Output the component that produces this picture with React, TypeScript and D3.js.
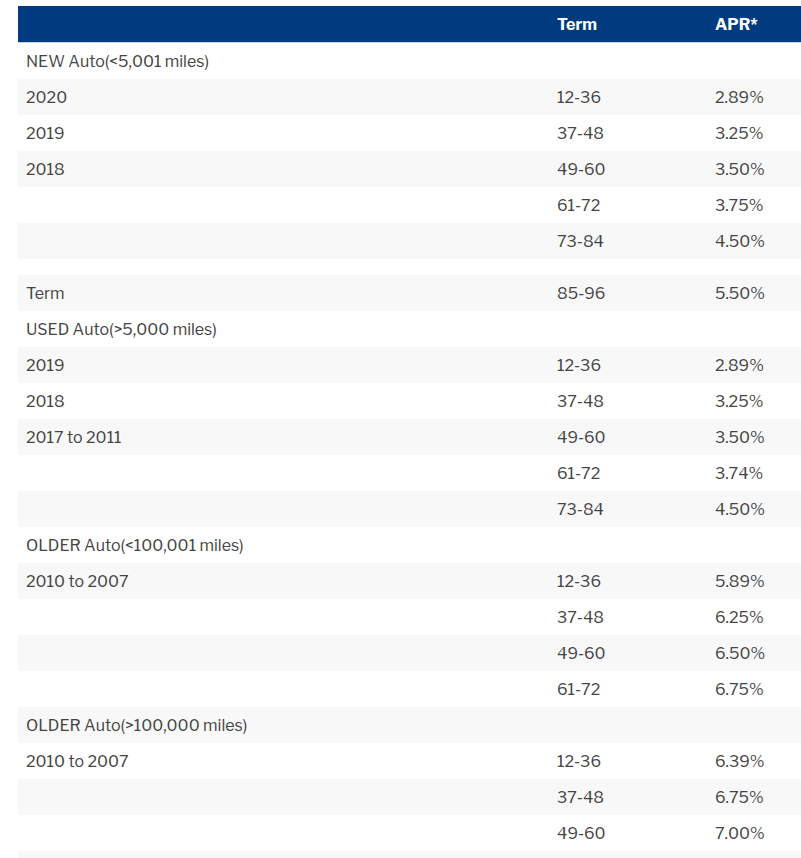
import React from "react";
import * as d3 from "d3";

const headers = ["", "Term", "APR*"];
const labels = [
  "NEW Auto(<5,001 miles)", "2020", "2019", "2018", "", "",
  "", "Term",
  "USED Auto(>5,000 miles)", "2019", "2018", "2017 to 2011", "", "",
  "OLDER Auto(<100,001 miles)", "2010 to 2007", "", "", "",
  "OLDER Auto(>100,000 miles)", "2010 to 2007", "", "", "",
];
const terms = [
  "", "12-36", "37-48", "49-60", "61-72", "73-84",
  "", "85-96",
  "", "12-36", "37-48", "49-60", "61-72", "73-84",
  "", "12-36", "37-48", "49-60", "61-72",
  "", "12-36", "37-48", "49-60", "",
];
const aprs = [
  "", "2.89%", "3.25%", "3.50%", "3.75%", "4.50%",
  "", "5.50%",
  "", "2.89%", "3.25%", "3.50%", "3.74%", "4.50%",
  "", "5.89%", "6.25%", "6.50%", "6.75%",
  "", "6.39%", "6.75%", "7.00%", "",
];
// spacer rows (index 6) are short
const spacerRows = [6];

const W = 801;
const H = 858;
const FONT = "'Libre Franklin', 'Open Sans', sans-serif";

export default function App() {
  const left = 18;
  const top = 6;
  const headerH = 36;
  const rowH = 36;
  const spacerH = 16;
  const colX = d3.scaleOrdinal<number, number>().domain([0, 1, 2]).range([26, 557, 715]);

  const heights = labels.map((_, i) => (spacerRows.includes(i) ? spacerH : rowH));
  const starts = d3.cumsum([0, ...heights]);
  const y = d3.scaleLinear().domain([0, 1]).range([top + headerH + 1, top + headerH + 2]);

  const rows = labels.map((l, i) => ({
    i,
    y0: y(0) + starts[i],
    h: heights[i],
    cells: [l, terms[i], aprs[i]],
  }));

  return (
    <svg
      width={W}
      height={H}
      style={{ position: "absolute", left: 0, top: 0, display: "block" }}
      fontFamily={FONT}
    >
      <rect x={0} y={0} width={W} height={H} fill="#fff" />
      <rect x={left} y={top} width={W - left} height={headerH} fill="#003b80" />
      <rect x={left} y={top + headerH} width={W - left} height={1} fill="#c9d5e6" />
      {headers.map((h, c) => (
        <text
          key={c}
          x={colX(c)}
          y={top + headerH / 2}
          dy="0.36em"
          fill="#fff"
          fontWeight={700}
          fontSize={16}
        >
          {h}
        </text>
      ))}
      {rows.map((r) => (
        <g key={r.i}>
          {r.i % 2 === 1 && (
            <rect x={left} y={r.y0} width={W - left} height={r.h} fill="#f8f8f8" />
          )}
          {r.cells.map((t, c) =>
            t ? (
              <text
                key={c}
                x={colX(c)}
                y={r.y0 + r.h / 2}
                dy="0.36em"
                fill="#444"
                fontSize={16}
              >
                {t}
              </text>
            ) : null
          )}
        </g>
      ))}
    </svg>
  );
}
